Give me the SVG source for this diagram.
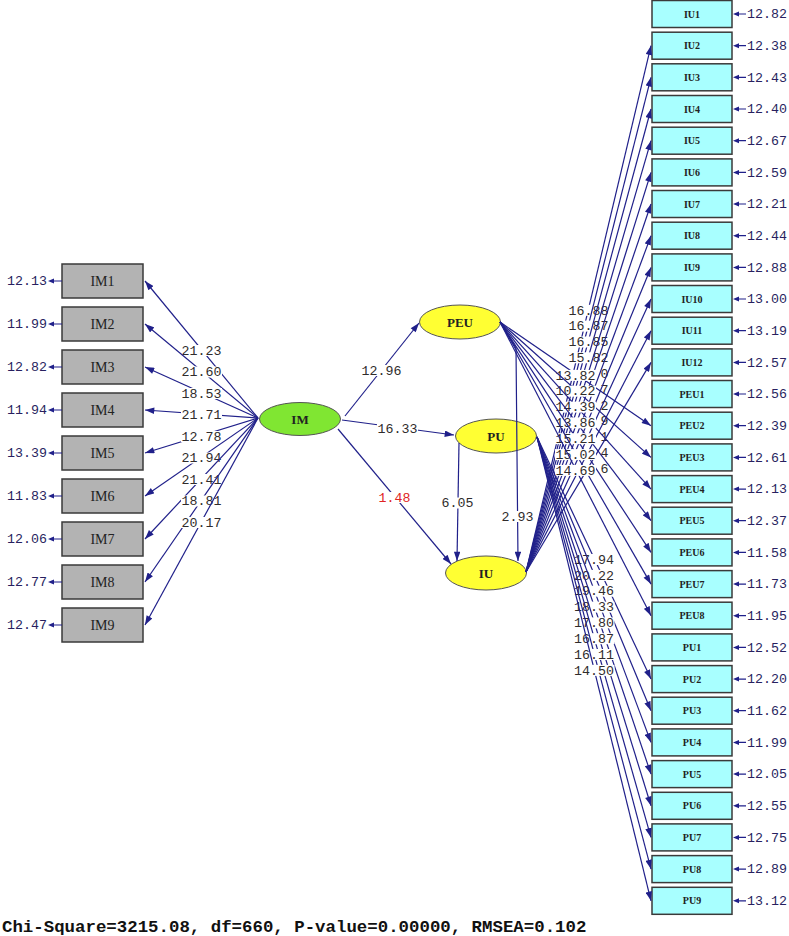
<svg xmlns="http://www.w3.org/2000/svg" width="789" height="936" viewBox="0 0 789 936">
<style>
.ln{stroke:#20208a;stroke-width:1.2;fill:none}
.ar{marker-end:url(#ah)}
.bg{fill:#ffffff}
.lbl{font-family:"Liberation Mono",monospace;font-size:13.3px;font-weight:normal;fill:#302c2c;text-anchor:middle}
.red{fill:#e02424}
.ev{font-family:"Liberation Mono",monospace;font-size:13.3px;font-weight:normal;fill:#281f60}
.evL{text-anchor:end}
.eh{fill:#20208a}
.boxL{fill:#b3b3b3;stroke:#3a3a3a;stroke-width:1.5}
.boxR{fill:#a8ffff;stroke:#3a3a3a;stroke-width:1.5}
.tL{font-family:"Liberation Serif",serif;font-size:14px;fill:#222;text-anchor:middle}
.tR{font-family:"Liberation Serif",serif;font-size:10px;font-weight:bold;fill:#222;text-anchor:middle}
.lvY{fill:#ffff33;stroke:#555;stroke-width:1}
.lvG{fill:#80e632;stroke:#555;stroke-width:1}
.tV{font-family:"Liberation Serif",serif;font-size:13px;font-weight:bold;fill:#222;text-anchor:middle}
.fit{font-family:"Liberation Mono",monospace;font-size:17.4px;font-weight:bold;fill:#111}
</style>
<defs>
<marker id="ah" viewBox="0 0 10 7" refX="10" refY="3.5" markerWidth="10" markerHeight="6.5" markerUnits="userSpaceOnUse" orient="auto"><path d="M0,0L10,3.5L0,7z" fill="#20208a"/></marker>
</defs>
<rect width="789" height="936" fill="#ffffff"/>

<!-- latent variables -->
<g id="IM"><ellipse class="lvG" cx="300" cy="419" rx="40.5" ry="16.5"/><text class="tV" x="300" y="423.5">IM</text></g>
<g id="PEU"><ellipse class="lvY" cx="460" cy="322" rx="40.5" ry="17"/><text class="tV" x="460" y="326.5">PEU</text></g>
<g id="PU"><ellipse class="lvY" cx="496" cy="436" rx="40.5" ry="17"/><text class="tV" x="496" y="440.5">PU</text></g>
<g id="IU"><ellipse class="lvY" cx="486" cy="573" rx="40.5" ry="17"/><text class="tV" x="486" y="577.5">IU</text></g>

<!-- left indicators -->
<g id="IM1"><rect class="boxL" x="62" y="264" width="81" height="34"/><text class="tL" x="102.5" y="286">IM1</text></g>
<g id="IM2"><rect class="boxL" x="62" y="307" width="81" height="34"/><text class="tL" x="102.5" y="329">IM2</text></g>
<g id="IM3"><rect class="boxL" x="62" y="350" width="81" height="34"/><text class="tL" x="102.5" y="372">IM3</text></g>
<g id="IM4"><rect class="boxL" x="62" y="393" width="81" height="34"/><text class="tL" x="102.5" y="415">IM4</text></g>
<g id="IM5"><rect class="boxL" x="62" y="436" width="81" height="34"/><text class="tL" x="102.5" y="458">IM5</text></g>
<g id="IM6"><rect class="boxL" x="62" y="479" width="81" height="34"/><text class="tL" x="102.5" y="501">IM6</text></g>
<g id="IM7"><rect class="boxL" x="62" y="522" width="81" height="34"/><text class="tL" x="102.5" y="544">IM7</text></g>
<g id="IM8"><rect class="boxL" x="62" y="565" width="81" height="34"/><text class="tL" x="102.5" y="587">IM8</text></g>
<g id="IM9"><rect class="boxL" x="62" y="608" width="81" height="34"/><text class="tL" x="102.5" y="630">IM9</text></g>

<!-- right indicators -->
<g id="IU1"><rect class="boxR" x="652" y="0.5" width="80" height="27"/><text class="tR" x="692" y="17.5">IU1</text></g>
<g id="IU2"><rect class="boxR" x="652" y="32.2" width="80" height="27"/><text class="tR" x="692" y="49.2">IU2</text></g>
<g id="IU3"><rect class="boxR" x="652" y="63.8" width="80" height="27"/><text class="tR" x="692" y="80.8">IU3</text></g>
<g id="IU4"><rect class="boxR" x="652" y="95.5" width="80" height="27"/><text class="tR" x="692" y="112.5">IU4</text></g>
<g id="IU5"><rect class="boxR" x="652" y="127.2" width="80" height="27"/><text class="tR" x="692" y="144.2">IU5</text></g>
<g id="IU6"><rect class="boxR" x="652" y="158.9" width="80" height="27"/><text class="tR" x="692" y="175.9">IU6</text></g>
<g id="IU7"><rect class="boxR" x="652" y="190.5" width="80" height="27"/><text class="tR" x="692" y="207.5">IU7</text></g>
<g id="IU8"><rect class="boxR" x="652" y="222.2" width="80" height="27"/><text class="tR" x="692" y="239.2">IU8</text></g>
<g id="IU9"><rect class="boxR" x="652" y="253.9" width="80" height="27"/><text class="tR" x="692" y="270.9">IU9</text></g>
<g id="IU10"><rect class="boxR" x="652" y="285.5" width="80" height="27"/><text class="tR" x="692" y="302.5">IU10</text></g>
<g id="IU11"><rect class="boxR" x="652" y="317.2" width="80" height="27"/><text class="tR" x="692" y="334.2">IU11</text></g>
<g id="IU12"><rect class="boxR" x="652" y="348.9" width="80" height="27"/><text class="tR" x="692" y="365.9">IU12</text></g>
<g id="PEU1"><rect class="boxR" x="652" y="380.5" width="80" height="27"/><text class="tR" x="692" y="397.5">PEU1</text></g>
<g id="PEU2"><rect class="boxR" x="652" y="412.2" width="80" height="27"/><text class="tR" x="692" y="429.2">PEU2</text></g>
<g id="PEU3"><rect class="boxR" x="652" y="443.9" width="80" height="27"/><text class="tR" x="692" y="460.9">PEU3</text></g>
<g id="PEU4"><rect class="boxR" x="652" y="475.6" width="80" height="27"/><text class="tR" x="692" y="492.6">PEU4</text></g>
<g id="PEU5"><rect class="boxR" x="652" y="507.2" width="80" height="27"/><text class="tR" x="692" y="524.2">PEU5</text></g>
<g id="PEU6"><rect class="boxR" x="652" y="538.9" width="80" height="27"/><text class="tR" x="692" y="555.9">PEU6</text></g>
<g id="PEU7"><rect class="boxR" x="652" y="570.6" width="80" height="27"/><text class="tR" x="692" y="587.6">PEU7</text></g>
<g id="PEU8"><rect class="boxR" x="652" y="602.2" width="80" height="27"/><text class="tR" x="692" y="619.2">PEU8</text></g>
<g id="PU1"><rect class="boxR" x="652" y="633.9" width="80" height="27"/><text class="tR" x="692" y="650.9">PU1</text></g>
<g id="PU2"><rect class="boxR" x="652" y="665.6" width="80" height="27"/><text class="tR" x="692" y="682.6">PU2</text></g>
<g id="PU3"><rect class="boxR" x="652" y="697.2" width="80" height="27"/><text class="tR" x="692" y="714.2">PU3</text></g>
<g id="PU4"><rect class="boxR" x="652" y="728.9" width="80" height="27"/><text class="tR" x="692" y="745.9">PU4</text></g>
<g id="PU5"><rect class="boxR" x="652" y="760.6" width="80" height="27"/><text class="tR" x="692" y="777.6">PU5</text></g>
<g id="PU6"><rect class="boxR" x="652" y="792.3" width="80" height="27"/><text class="tR" x="692" y="809.3">PU6</text></g>
<g id="PU7"><rect class="boxR" x="652" y="823.9" width="80" height="27"/><text class="tR" x="692" y="840.9">PU7</text></g>
<g id="PU8"><rect class="boxR" x="652" y="855.6" width="80" height="27"/><text class="tR" x="692" y="872.6">PU8</text></g>
<g id="PU9"><rect class="boxR" x="652" y="887.3" width="80" height="27"/><text class="tR" x="692" y="904.3">PU9</text></g>

<g id="connectors">
<!-- error arrows left -->
<g id="errors-left">
<path class="ln" d="M53,281H62M53,324H62M53,367H62M53,410H62M53,453H62M53,496H62M53,539H62M53,582H62M53,625H62"/>
<path class="eh" d="M48,281l6,-2.5v5zM48,324l6,-2.5v5zM48,367l6,-2.5v5zM48,410l6,-2.5v5zM48,453l6,-2.5v5zM48,496l6,-2.5v5zM48,539l6,-2.5v5zM48,582l6,-2.5v5zM48,625l6,-2.5v5z"/>
<text class="ev evL" x="47" y="285.2">12.13</text>
<text class="ev evL" x="47" y="328.2">11.99</text>
<text class="ev evL" x="47" y="371.2">12.82</text>
<text class="ev evL" x="47" y="414.2">11.94</text>
<text class="ev evL" x="47" y="457.2">13.39</text>
<text class="ev evL" x="47" y="500.2">11.83</text>
<text class="ev evL" x="47" y="543.2">12.06</text>
<text class="ev evL" x="47" y="586.2">12.77</text>
<text class="ev evL" x="47" y="629.2">12.47</text>
</g>
<!-- error arrows right -->
<g id="errors-right">
<path class="ln" d="M738,14H746M738,45.7H746M738,77.3H746M738,109H746M738,140.7H746M738,172.4H746M738,204H746M738,235.7H746M738,267.4H746M738,299H746M738,330.7H746M738,362.4H746M738,394H746M738,425.7H746M738,457.4H746M738,489.1H746M738,520.7H746M738,552.4H746M738,584.1H746M738,615.7H746M738,647.4H746M738,679.1H746M738,710.7H746M738,742.4H746M738,774.1H746M738,805.8H746M738,837.4H746M738,869.1H746M738,900.8H746"/>
<path class="eh" d="M733,14l6,-2.5v5zM733,45.7l6,-2.5v5zM733,77.3l6,-2.5v5zM733,109l6,-2.5v5zM733,140.7l6,-2.5v5zM733,172.4l6,-2.5v5zM733,204l6,-2.5v5zM733,235.7l6,-2.5v5zM733,267.4l6,-2.5v5zM733,299l6,-2.5v5zM733,330.7l6,-2.5v5zM733,362.4l6,-2.5v5zM733,394l6,-2.5v5zM733,425.7l6,-2.5v5zM733,457.4l6,-2.5v5zM733,489.1l6,-2.5v5zM733,520.7l6,-2.5v5zM733,552.4l6,-2.5v5zM733,584.1l6,-2.5v5zM733,615.7l6,-2.5v5zM733,647.4l6,-2.5v5zM733,679.1l6,-2.5v5zM733,710.7l6,-2.5v5zM733,742.4l6,-2.5v5zM733,774.1l6,-2.5v5zM733,805.8l6,-2.5v5zM733,837.4l6,-2.5v5zM733,869.1l6,-2.5v5zM733,900.8l6,-2.5v5z"/>
<text class="ev" x="747" y="18.2">12.82</text>
<text class="ev" x="747" y="49.9">12.38</text>
<text class="ev" x="747" y="81.5">12.43</text>
<text class="ev" x="747" y="113.2">12.40</text>
<text class="ev" x="747" y="144.9">12.67</text>
<text class="ev" x="747" y="176.6">12.59</text>
<text class="ev" x="747" y="208.2">12.21</text>
<text class="ev" x="747" y="239.9">12.44</text>
<text class="ev" x="747" y="271.6">12.88</text>
<text class="ev" x="747" y="303.2">13.00</text>
<text class="ev" x="747" y="334.9">13.19</text>
<text class="ev" x="747" y="366.6">12.57</text>
<text class="ev" x="747" y="398.2">12.56</text>
<text class="ev" x="747" y="429.9">12.39</text>
<text class="ev" x="747" y="461.6">12.61</text>
<text class="ev" x="747" y="493.3">12.13</text>
<text class="ev" x="747" y="524.9">12.37</text>
<text class="ev" x="747" y="556.6">11.58</text>
<text class="ev" x="747" y="588.3">11.73</text>
<text class="ev" x="747" y="619.9">11.95</text>
<text class="ev" x="747" y="651.6">12.52</text>
<text class="ev" x="747" y="683.3">12.20</text>
<text class="ev" x="747" y="714.9">11.62</text>
<text class="ev" x="747" y="746.6">11.99</text>
<text class="ev" x="747" y="778.3">12.05</text>
<text class="ev" x="747" y="810">12.55</text>
<text class="ev" x="747" y="841.6">12.75</text>
<text class="ev" x="747" y="873.3">12.89</text>
<text class="ev" x="747" y="905">13.12</text>
</g>

<!-- structural paths -->
<g id="IM-PEU"><path class="ln ar" d="M345,416L419,323"/><rect class="bg" x="361" y="365" width="41" height="11"/><text class="lbl" x="381.5" y="374.7">12.96</text></g>
<g id="IM-PU"><path class="ln ar" d="M342,420L454,435"/><rect class="bg" x="377" y="423" width="41" height="11"/><text class="lbl" x="397.5" y="432.7">16.33</text></g>
<g id="IM-IU"><path class="ln ar" d="M338,429L451,564"/><rect class="bg" x="378" y="492" width="33" height="11"/><text class="lbl red" x="394.5" y="501.7">1.48</text></g>
<g id="PU-IU"><path class="ln ar" d="M459,443L457,561"/><rect class="bg" x="441" y="497.5" width="33" height="11"/><text class="lbl" x="457.5" y="507.2">6.05</text></g>
<g id="PEU-IU"><path class="ln ar" d="M500,322L516,348L518,561"/><rect class="bg" x="501" y="511" width="33" height="11"/><text class="lbl" x="517.5" y="520.7">2.93</text></g>

<!-- IM loadings -->
<g id="IM-IM1"><path class="ln ar" d="M258,418L145,281"/><rect class="bg" x="181" y="345" width="41" height="11"/><text class="lbl" x="201.5" y="354.7">21.23</text></g>
<g id="IM-IM2"><path class="ln ar" d="M258,418L145,324"/><rect class="bg" x="181" y="366.5" width="41" height="11"/><text class="lbl" x="201.5" y="376.2">21.60</text></g>
<g id="IM-IM3"><path class="ln ar" d="M258,418L145,367"/><rect class="bg" x="181" y="388" width="41" height="11"/><text class="lbl" x="201.5" y="397.7">18.53</text></g>
<g id="IM-IM4"><path class="ln ar" d="M258,418L145,410"/><rect class="bg" x="181" y="409.5" width="41" height="11"/><text class="lbl" x="201.5" y="419.2">21.71</text></g>
<g id="IM-IM5"><path class="ln ar" d="M258,418L145,453"/><rect class="bg" x="181" y="431" width="41" height="11"/><text class="lbl" x="201.5" y="440.7">12.78</text></g>
<g id="IM-IM6"><path class="ln ar" d="M258,418L145,496"/><rect class="bg" x="181" y="452.5" width="41" height="11"/><text class="lbl" x="201.5" y="462.2">21.94</text></g>
<g id="IM-IM7"><path class="ln ar" d="M258,418L145,539"/><rect class="bg" x="181" y="474" width="41" height="11"/><text class="lbl" x="201.5" y="483.7">21.41</text></g>
<g id="IM-IM8"><path class="ln ar" d="M258,418L145,582"/><rect class="bg" x="181" y="495.5" width="41" height="11"/><text class="lbl" x="201.5" y="505.2">18.81</text></g>
<g id="IM-IM9"><path class="ln ar" d="M258,418L145,625"/><rect class="bg" x="181" y="517" width="41" height="11"/><text class="lbl" x="201.5" y="526.7">20.17</text></g>

<!-- IU loadings -->
<g id="IU-IU2"><path class="ln ar" d="M526,572L651,45.7"/><rect class="bg" x="568" y="304.8" width="41" height="11"/><text class="lbl" x="588.5" y="314.5">16.88</text></g>
<g id="IU-IU3"><path class="ln ar" d="M526,572L651,77.3"/><rect class="bg" x="568" y="320.6" width="41" height="11"/><text class="lbl" x="588.5" y="330.3">16.87</text></g>
<g id="IU-IU4"><path class="ln ar" d="M526,572L651,109"/><rect class="bg" x="568" y="336.5" width="41" height="11"/><text class="lbl" x="588.5" y="346.2">16.85</text></g>
<g id="IU-IU5"><path class="ln ar" d="M526,572L651,140.7"/><rect class="bg" x="568" y="352.3" width="41" height="11"/><text class="lbl" x="588.5" y="362">15.82</text></g>
<g id="IU-IU6"><path class="ln ar" d="M526,572L651,172.4"/><rect class="bg" x="598" y="368.2" width="11" height="11"/><text class="lbl" x="604.5" y="377.9">0</text></g>
<g id="IU-IU7"><path class="ln ar" d="M526,572L651,204"/><rect class="bg" x="598" y="384" width="11" height="11"/><text class="lbl" x="604.5" y="393.7">7</text></g>
<g id="IU-IU8"><path class="ln ar" d="M526,572L651,235.7"/><rect class="bg" x="598" y="399.9" width="11" height="11"/><text class="lbl" x="604.5" y="409.6">2</text></g>
<g id="IU-IU9"><path class="ln ar" d="M526,572L651,267.4"/><rect class="bg" x="598" y="415.7" width="11" height="11"/><text class="lbl" x="604.5" y="425.4">9</text></g>
<g id="IU-IU10"><path class="ln ar" d="M526,572L651,299"/><rect class="bg" x="598" y="431.5" width="11" height="11"/><text class="lbl" x="604.5" y="441.2">1</text></g>
<g id="IU-IU11"><path class="ln ar" d="M526,572L651,330.7"/><rect class="bg" x="598" y="447.4" width="11" height="11"/><text class="lbl" x="604.5" y="457.1">4</text></g>
<g id="IU-IU12"><path class="ln ar" d="M526,572L651,362.4"/><rect class="bg" x="598" y="463.2" width="11" height="11"/><text class="lbl" x="604.5" y="472.9">6</text></g>

<!-- PEU loadings -->
<g id="PEU-PEU2"><path class="ln ar" d="M500,322L651,425.7"/><rect class="bg" x="555" y="369.9" width="41" height="11"/><text class="lbl" x="575.5" y="379.6">13.82</text></g>
<g id="PEU-PEU3"><path class="ln ar" d="M500,322L651,457.4"/><rect class="bg" x="555" y="385.7" width="41" height="11"/><text class="lbl" x="575.5" y="395.4">10.22</text></g>
<g id="PEU-PEU4"><path class="ln ar" d="M500,322L651,489.1"/><rect class="bg" x="555" y="401.6" width="41" height="11"/><text class="lbl" x="575.5" y="411.3">14.39</text></g>
<g id="PEU-PEU5"><path class="ln ar" d="M500,322L651,520.7"/><rect class="bg" x="555" y="417.4" width="41" height="11"/><text class="lbl" x="575.5" y="427.1">13.86</text></g>
<g id="PEU-PEU6"><path class="ln ar" d="M500,322L651,552.4"/><rect class="bg" x="555" y="433.2" width="41" height="11"/><text class="lbl" x="575.5" y="442.9">15.21</text></g>
<g id="PEU-PEU7"><path class="ln ar" d="M500,322L651,584.1"/><rect class="bg" x="555" y="449.1" width="41" height="11"/><text class="lbl" x="575.5" y="458.8">15.02</text></g>
<g id="PEU-PEU8"><path class="ln ar" d="M500,322L651,615.7"/><rect class="bg" x="555" y="464.9" width="41" height="11"/><text class="lbl" x="575.5" y="474.6">14.69</text></g>

<!-- PU loadings -->
<g id="PU-PU2"><path class="ln ar" d="M537,437L651,679.1"/><rect class="bg" x="573.5" y="554" width="41" height="11"/><text class="lbl" x="594" y="563.7">17.94</text></g>
<g id="PU-PU3"><path class="ln ar" d="M537,437L651,710.7"/><rect class="bg" x="573.5" y="569.9" width="41" height="11"/><text class="lbl" x="594" y="579.6">20.22</text></g>
<g id="PU-PU4"><path class="ln ar" d="M537,437L651,742.4"/><rect class="bg" x="573.5" y="585.7" width="41" height="11"/><text class="lbl" x="594" y="595.4">19.46</text></g>
<g id="PU-PU5"><path class="ln ar" d="M537,437L651,774.1"/><rect class="bg" x="573.5" y="601.6" width="41" height="11"/><text class="lbl" x="594" y="611.3">18.33</text></g>
<g id="PU-PU6"><path class="ln ar" d="M537,437L651,805.8"/><rect class="bg" x="573.5" y="617.4" width="41" height="11"/><text class="lbl" x="594" y="627.1">17.80</text></g>
<g id="PU-PU7"><path class="ln ar" d="M537,437L651,837.4"/><rect class="bg" x="573.5" y="633.2" width="41" height="11"/><text class="lbl" x="594" y="642.9">16.87</text></g>
<g id="PU-PU8"><path class="ln ar" d="M537,437L651,869.1"/><rect class="bg" x="573.5" y="649" width="41" height="11"/><text class="lbl" x="594" y="658.7">16.11</text></g>
<g id="PU-PU9"><path class="ln ar" d="M537,437L651,900.8"/><rect class="bg" x="573.5" y="664.9" width="41" height="11"/><text class="lbl" x="594" y="674.6">14.50</text></g>
</g>

<text class="fit" x="2" y="932">Chi-Square=3215.08, df=660, P-value=0.00000, RMSEA=0.102</text>
</svg>
